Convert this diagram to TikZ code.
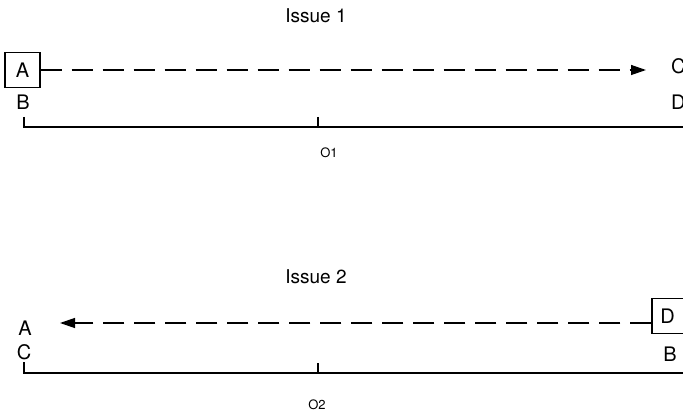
\documentclass[tikz,border=0pt]{standalone}
\usepackage{fontspec}
\setmainfont{TeX Gyre Heros}
\usetikzlibrary{arrows.meta}
\begin{document}
\begin{tikzpicture}[x=1pt,y=-1pt,
  lbl/.style={inner sep=0pt,font=\fontsize{20}{22}\selectfont},
  ttl/.style={inner sep=0pt,font=\fontsize{19}{21}\selectfont},
  small/.style={inner sep=0pt,font=\fontsize{13}{15}\selectfont},
  boxnode/.style={draw,line width=1.1pt,minimum width=35pt,minimum height=35pt,inner sep=0pt,font=\fontsize{20}{22}\selectfont},
  flow/.style={line width=1.3pt,dash pattern=on 21pt off 10pt,-{Triangle[length=15pt,width=10pt]}},
  axis/.style={line width=1.3pt}]
\useasboundingbox (0,0) rectangle (683,414);
\clip (0,0) rectangle (683,414);
% Issue 1
\node[ttl] (t1) at (316,16) {Issue 1};
\node[boxnode] (a1) at (22.5,70) {A};
\node[lbl] (b1) at (23,102) {B};
\node[lbl,anchor=west] (c1) at (671,66) {C};
\node[lbl,anchor=west] (d1) at (671,102) {D};
\coordinate (e1) at (646,70);
\draw[flow] (a1.east) -- (e1);
\coordinate (l1s) at (24,117);
\coordinate (l1c) at (24,127);
\coordinate (l1e) at (690,127);
\coordinate (m1t) at (318,117);
\coordinate (m1b) at (318,127);
\draw[axis] (l1s) -- (l1c) -- (l1e);
\draw[axis] (m1t) -- (m1b);
\node[small] (o1) at (329,153) {O1};
% Issue 2
\node[ttl] (t2) at (316,277) {Issue 2};
\node[boxnode,minimum width=40pt] (d2) at (672,316) {\hspace*{-9pt}D};
\node[lbl] (b2) at (670,354) {B};
\node[lbl] (a2) at (25,328) {A};
\node[lbl] (c2) at (24,352) {C};
\coordinate (e2) at (60,323);
\draw[flow] (d2.west |- 0,323) -- (e2);
\coordinate (l2s) at (24,362);
\coordinate (l2c) at (24,373);
\coordinate (l2e) at (690,373);
\coordinate (m2t) at (318,363);
\coordinate (m2b) at (318,373);
\draw[axis] (l2s) -- (l2c) -- (l2e);
\draw[axis] (m2t) -- (m2b);
\node[small] (o2) at (317,405) {O2};
\end{tikzpicture}
\end{document}
